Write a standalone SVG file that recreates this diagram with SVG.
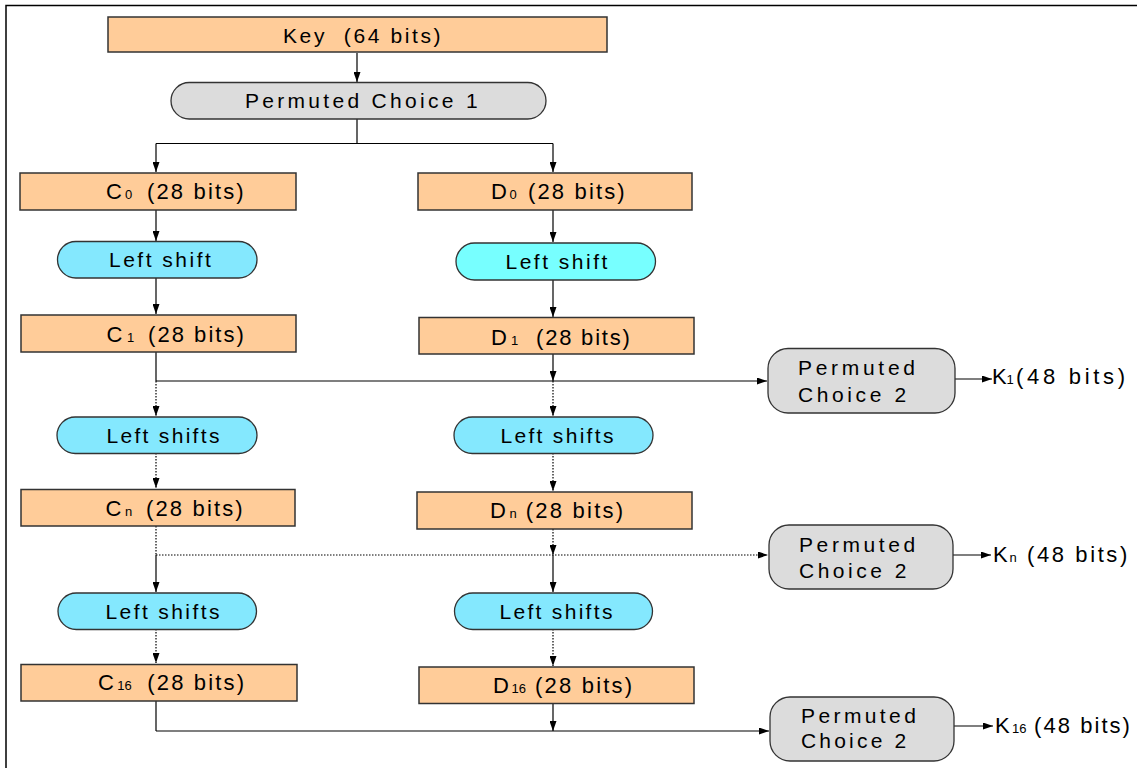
<svg xmlns="http://www.w3.org/2000/svg" width="1137" height="768" viewBox="0 0 1137 768">
<style>
.t{font-family:"Liberation Sans",Arial,sans-serif;font-size:21px;fill:#000}
.b{font-size:22px}
.s{font-size:13px}
.box{fill:#FFCC99;stroke:#333;stroke-width:1.5}
.pill{fill:#DCDCDC;stroke:#333;stroke-width:1.3}
.ls{fill:#84E8FE;stroke:#333;stroke-width:1.3}
.ls2{fill:#77FFFF;stroke:#333;stroke-width:1.3}
.c{fill:none;stroke:#000;stroke-width:1.2}
.d{fill:none;stroke:#000;stroke-width:1.2;stroke-dasharray:1.5 1.5}
.a{marker-end:url(#ah)}
</style>
<defs>
<marker id="ah" viewBox="0 0 10 7" refX="10" refY="3.5" markerWidth="10" markerHeight="7" markerUnits="userSpaceOnUse" orient="auto"><path d="M0,0 L10,3.5 L0,7z" fill="#000"/></marker>
</defs>
<rect width="1137" height="768" fill="#fff"/>
<path d="M6,768 V5.5 H1137" fill="none" stroke="#000" stroke-width="1.5"/>

<g id="connectors">
<path class="c a" d="M357,53 V82"/>
<path class="c" d="M357,119 V143.5 M156,143.5 H553"/>
<path class="c a" d="M156,143.5 V172"/>
<path class="c a" d="M553,143.5 V172"/>
<path class="c a" d="M156,210 V241"/>
<path class="c a" d="M553,210 V242"/>
<path class="c a" d="M156,278 V314"/>
<path class="c a" d="M553,280 V317"/>
<path class="c" d="M156,352 V381"/>
<path class="c a" d="M156,381 H767"/>
<path class="c a" d="M553,354 V381"/>
<path class="d a" d="M156,381 V416"/>
<path class="d a" d="M553,381 V416"/>
<path class="d a" d="M156,453 V488"/>
<path class="d a" d="M553,453 V491"/>
<path class="d" d="M156,526 V555"/>
<path class="d a" d="M156,555 H768"/>
<path class="d a" d="M553,529 V555"/>
<path class="c a" d="M156,555 V592"/>
<path class="c a" d="M553,555 V592"/>
<path class="d a" d="M156,629 V663"/>
<path class="d a" d="M553,629 V666"/>
<path class="c" d="M156,701 V731"/>
<path class="c a" d="M156,731 H769"/>
<path class="c a" d="M553,703 V731"/>
<path class="c a" d="M955,379 H992"/>
<path class="c a" d="M953,555 H991"/>
<path class="c a" d="M954,726 H993"/>
</g>

<g id="key"><rect class="box" x="108" y="17" width="499" height="35"/>
<text class="t" x="283" y="42.5" letter-spacing="2.6" xml:space="preserve">Key  (64 bits)</text></g>

<g id="pc1"><rect class="pill" x="171" y="82.5" width="375" height="36.5" rx="18.25"/>
<text class="t" x="245" y="108" letter-spacing="3.3">Permuted Choice 1</text></g>

<g id="c0"><rect class="box" x="20" y="173" width="276" height="37"/>
<text class="t b" y="199"><tspan x="106">C</tspan><tspan class="s" x="125">0</tspan><tspan x="147" letter-spacing="2.15">(28 bits)</tspan></text></g>
<g id="d0"><rect class="box" x="418" y="173" width="274" height="37"/>
<text class="t b" y="199"><tspan x="491">D</tspan><tspan class="s" x="509.5">0</tspan><tspan x="528" letter-spacing="2.15">(28 bits)</tspan></text></g>

<g id="ls-c1"><rect class="ls" x="57.5" y="241.5" width="199.5" height="36.5" rx="18.25"/>
<text class="t" x="109" y="267" letter-spacing="2.5">Left shift</text></g>
<g id="ls-d1"><rect class="ls2" x="456" y="243" width="199.5" height="37" rx="18.5"/>
<text class="t" x="505.5" y="269.3" letter-spacing="2.5">Left shift</text></g>

<g id="c1"><rect class="box" x="21" y="315" width="275" height="37"/>
<text class="t b" y="341.5"><tspan x="106.5">C</tspan><tspan class="s" x="127">1</tspan><tspan x="148" letter-spacing="2.05">(28 bits)</tspan></text></g>
<g id="d1"><rect class="box" x="419" y="317.5" width="275" height="36.5"/>
<text class="t b" y="345"><tspan x="491">D</tspan><tspan class="s" x="511">1</tspan><tspan x="536" letter-spacing="1.8">(28 bits)</tspan></text></g>

<g id="pc2-1"><rect class="pill" x="768" y="348.5" width="187" height="64.5" rx="20"/>
<text class="t" x="798" y="375" letter-spacing="3.7">Permuted</text>
<text class="t" x="798" y="402.3" letter-spacing="3.6">Choice 2</text></g>
<g id="k1"><text class="t b" y="384"><tspan x="992">K</tspan><tspan class="s" x="1006.5">1</tspan><tspan x="1016" letter-spacing="3.7">(48 bits)</tspan></text></g>

<g id="ls-c2"><rect class="ls" x="57" y="417" width="200" height="36.5" rx="18.25"/>
<text class="t" x="106.5" y="443" letter-spacing="2.3">Left shifts</text></g>
<g id="ls-d2"><rect class="ls" x="454" y="417" width="199" height="36.5" rx="18.25"/>
<text class="t" x="500.5" y="443" letter-spacing="2.3">Left shifts</text></g>

<g id="cn"><rect class="box" x="21" y="489.5" width="274" height="36.5"/>
<text class="t b" y="515.5"><tspan x="105.5">C</tspan><tspan class="s" x="125">n</tspan><tspan x="146" letter-spacing="2.15">(28 bits)</tspan></text></g>
<g id="dn"><rect class="box" x="417" y="492" width="275" height="37"/>
<text class="t b" y="518"><tspan x="490">D</tspan><tspan class="s" x="509.5">n</tspan><tspan x="525.7" letter-spacing="2.25">(28 bits)</tspan></text></g>

<g id="pc2-n"><rect class="pill" x="769" y="525" width="184" height="64" rx="20"/>
<text class="t" x="799" y="551.7" letter-spacing="3.6">Permuted</text>
<text class="t" x="799" y="578.3" letter-spacing="3.5">Choice 2</text></g>
<g id="kn"><text class="t b" y="561.5"><tspan x="993">K</tspan><tspan class="s" x="1009.5">n</tspan><tspan x="1027" letter-spacing="2.6">(48 bits)</tspan></text></g>

<g id="ls-c3"><rect class="ls" x="58" y="593" width="198.5" height="36.5" rx="18.25"/>
<text class="t" x="105.5" y="619" letter-spacing="2.4">Left shifts</text></g>
<g id="ls-d3"><rect class="ls" x="454.5" y="593" width="198" height="36.5" rx="18.25"/>
<text class="t" x="499.5" y="619" letter-spacing="2.3">Left shifts</text></g>

<g id="c16"><rect class="box" x="21" y="664.5" width="276" height="36.5"/>
<text class="t b" y="690"><tspan x="98">C</tspan><tspan class="s" x="117.3">16</tspan><tspan x="147.3" letter-spacing="2.15">(28 bits)</tspan></text></g>
<g id="d16"><rect class="box" x="419" y="667" width="275" height="36.5"/>
<text class="t b" y="693"><tspan x="493">D</tspan><tspan class="s" x="511.5">16</tspan><tspan x="535" letter-spacing="2.2">(28 bits)</tspan></text></g>

<g id="pc2-16"><rect class="pill" x="770" y="697" width="184" height="64" rx="20"/>
<text class="t" x="801" y="723.3" letter-spacing="3.4">Permuted</text>
<text class="t" x="801" y="748.3" letter-spacing="3.2">Choice 2</text></g>
<g id="k16"><text class="t b" y="733"><tspan x="995">K</tspan><tspan class="s" x="1012">16</tspan><tspan x="1034" letter-spacing="2.06">(48 bits)</tspan></text></g>
</svg>
